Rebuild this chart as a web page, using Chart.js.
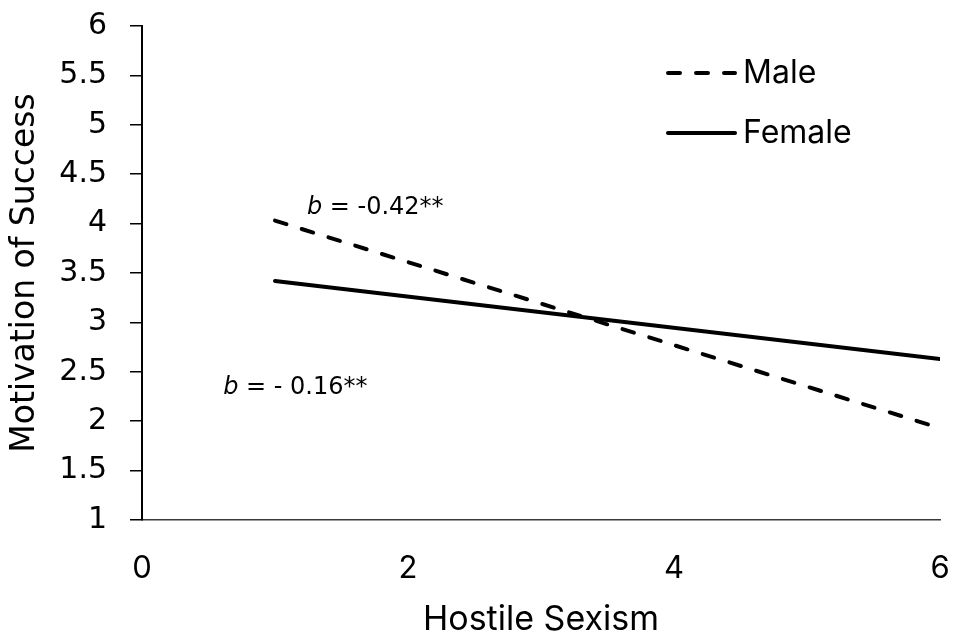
<!DOCTYPE html>
<html>
<head>
<meta charset="utf-8">
<script src="https://cdn.jsdelivr.net/npm/chart.js@4.4.1/dist/chart.umd.min.js"></script>
<style>
  html, body { margin: 0; padding: 0; background: #fff; }
  #wrap { width: 955px; height: 641px; position: relative; }
</style>
</head>
<body>
<div id="wrap"><canvas id="chart"></canvas></div>
<script>
// values
const hostileSexism = [1, 6];
const maleMotivation = [4.03, 1.93];
const femaleMotivation = [3.42, 2.63];
const seriesNames = ["Male", "Female"];
const slopeLabels = ["= -0.42**", "= - 0.16**"];
const xTickValues = [0, 2, 4, 6];

const ctx = document.getElementById("chart");

const toPoints = (ys) => hostileSexism.map((x, i) => ({ x: x, y: ys[i] }));

//draws legend and the two slope notes
const notesPlugin = {
  id: "notes",
  afterDraw(chart) {
    const c = chart.ctx;
    const xs = chart.scales.x;
    const ys = chart.scales.y;
    c.save();
    //slope notes, anchored in data coordinates
    const spots = [
      { x: 1.24, y: 4.16 },
      { x: 0.61, y: 2.34 },
    ];
    spots.forEach((s, i) => {
      const px = xs.getPixelForValue(s.x);
      const py = ys.getPixelForValue(s.y);
      c.fillStyle = "#000";
      c.textBaseline = "middle";
      c.textAlign = "left";
      c.font = "italic 24px 'DejaVu Sans'";
      c.fillText("b", px, py);
      const w = c.measureText("b ").width;
      c.font = "24px 'DejaVu Sans'";
      c.fillText(slopeLabels[i], px + w, py);
    });
    //legend
    const area = chart.chartArea;
    const lx = area.right - 272;
    const rows = [area.top + 47, area.top + 107];
    chart.data.datasets.forEach((ds, i) => {
      c.beginPath();
      c.lineWidth = ds.borderWidth;
      c.strokeStyle = ds.borderColor;
      c.lineCap = ds.borderCapStyle || "butt";
      c.setLineDash(ds.borderDash || []);
      c.moveTo(lx, rows[i]);
      c.lineTo(lx + 67, rows[i]);
      c.stroke();
      c.setLineDash([]);
      c.fillStyle = "#000";
      c.font = "32px Inter";
      c.textBaseline = "middle";
      c.fillText(ds.label, lx + 75, rows[i]);
    });
    c.restore();
  },
};

const noPad = (scale) => {
  scale.paddingTop = 0;
  scale.paddingBottom = 0;
  scale.paddingLeft = 0;
  scale.paddingRight = 0;
};

const data = {
  datasets: [
    {
      label: seriesNames[0],
      data: toPoints(maleMotivation),
      borderColor: "#000",
      borderWidth: 4,
      borderDash: [12, 16],
      borderCapStyle: "round",
      pointRadius: 0,
      showLine: true,
    },
    {
      label: seriesNames[1],
      data: toPoints(femaleMotivation),
      borderColor: "#000",
      borderWidth: 4,
      borderCapStyle: "round",
      pointRadius: 0,
      showLine: true,
    },
  ],
};

const config = {
  type: "scatter",
  data,
  options: {
    responsive: true,
    maintainAspectRatio: false,
    animation: false,
    layout: { padding: { top: 26, right: 15, left: 0, bottom: 0 } },
    plugins: {
      legend: { display: false },
      tooltip: { enabled: false },
    },
    scales: {
      x: {
        type: "linear",
        min: 0,
        max: 6,
        afterBuildTicks: (scale) => {
          scale.ticks = xTickValues.map((v) => ({ value: v }));
        },
        afterFit: (scale) => {
          scale.height = 121;
          noPad(scale);
        },
        grid: { display: true, drawOnChartArea: false, drawTicks: false },
        border: { color: "#3a3a3a", width: 1.5 },
        ticks: {
          color: "#000",
          padding: 30,
          maxRotation: 0,
          font: { family: "Inter", size: 31 },
        },
        title: {
          display: true,
          text: "Hostile Sexism",
          color: "#000",
          font: { family: "Inter", size: 34 },
          padding: { top: 1, bottom: 1 },
        },
      },
      y: {
        min: 1,
        max: 6,
        afterFit: (scale) => {
          scale.width = 142;
          noPad(scale);
        },
        grid: {
          drawOnChartArea: false,
          drawTicks: true,
          tickLength: 12,
          color: "#000",
          lineWidth: 1.5,
        },
        border: { color: "#000", width: 2 },
        ticks: {
          stepSize: 0.5,
          color: "#000",
          padding: 23,
          font: { family: "DejaVu Sans", size: 30 },
          callback: (v) => String(+Number(v).toFixed(1)),
        },
        title: {
          display: true,
          text: "Motivation of Success",
          color: "#000",
          font: { family: "DejaVu Sans", size: 33 },
          padding: { top: 6, bottom: 6 },
        },
      },
    },
  },
  plugins: [notesPlugin],
};

let myChart = new Chart(ctx, config);
</script>
</body>
</html>
